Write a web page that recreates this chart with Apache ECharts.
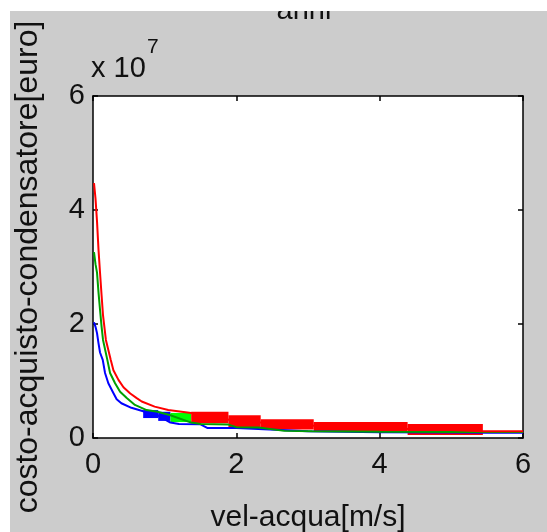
<!DOCTYPE html>
<html>
<head>
<meta charset="utf-8">
<script src="https://cdn.jsdelivr.net/npm/echarts@6/dist/echarts.min.js"></script>
<style>
  html, body { margin: 0; padding: 0; background: #ffffff; }
  #chart { width: 547px; height: 532px; }
</style>
</head>
<body>
<div id="chart"></div>
<script>
// ---- data (velocity m/s, cost in units of 1e7 euro) ----
const xTicks = [0, 2, 4, 6];
const yTicks = [0, 2, 4, 6];
const titleText = 'anni';
const xName = 'vel-acqua[m/s]';
const yName = 'costo-acquisto-condensatore[euro]';
const exponentBase = 'x 10';
const exponentPow = '7';

const blueLine = [
  [0.014, 2.03], [0.035, 1.95], [0.056, 1.84], [0.077, 1.66], [0.098, 1.50],
  [0.136, 1.37], [0.168, 1.14], [0.214, 0.96], [0.284, 0.79], [0.33, 0.68],
  [0.396, 0.61], [0.536, 0.53], [0.70, 0.47], [0.90, 0.40], [1.08, 0.27],
  [1.2, 0.245], [1.5, 0.24], [1.6, 0.175], [2.0, 0.175], [3.0, 0.12],
  [4.0, 0.10], [5.0, 0.095], [5.5, 0.09], [6.0, 0.09]
];
const greenLine = [
  [0.014, 3.26], [0.035, 3.05], [0.056, 2.90], [0.077, 2.55], [0.098, 2.25],
  [0.12, 1.95], [0.14, 1.72], [0.20, 1.37], [0.238, 1.14], [0.308, 0.96],
  [0.378, 0.81], [0.471, 0.70], [0.585, 0.58], [0.748, 0.49], [0.90, 0.46],
  [1.08, 0.40], [1.37, 0.27], [1.5, 0.245], [1.89, 0.235], [2.0, 0.19],
  [2.31, 0.185], [2.67, 0.125], [3.06, 0.12], [4.0, 0.11], [5.0, 0.105], [6.0, 0.105]
];
const redLine = [
  [0.014, 4.47], [0.035, 4.20], [0.056, 3.80], [0.077, 3.30], [0.098, 2.90],
  [0.12, 2.50], [0.14, 2.15], [0.18, 1.72], [0.248, 1.37], [0.285, 1.19],
  [0.355, 1.02], [0.425, 0.89], [0.52, 0.78], [0.61, 0.70], [0.68, 0.64],
  [0.86, 0.55], [1.05, 0.49], [1.37, 0.44], [1.6, 0.38], [2.0, 0.30],
  [3.0, 0.22], [4.0, 0.17], [5.0, 0.14], [5.44, 0.12], [6.0, 0.12]
];
// dense bands: [v start, v end, cost low, cost high]
const blueBand = [
  [0.70, 0.91, 0.35, 0.49],
  [0.91, 1.08, 0.30, 0.46]
];
const greenBand = [
  [1.08, 1.37, 0.28, 0.44]
];
const redBand = [
  [1.37, 1.89, 0.26, 0.46],
  [1.89, 2.34, 0.19, 0.40],
  [2.34, 3.08, 0.15, 0.33],
  [3.08, 4.39, 0.105, 0.28],
  [4.39, 5.44, 0.053, 0.245]
];

// ---- chart ----
const FONT = 'Liberation Sans';
const TXT = '#111111';
const chart = echarts.init(document.getElementById('chart'), null, { renderer: 'canvas' });

function bandSeries(data, color) {
  return {
    type: 'custom',
    data: data,
    encode: { x: [0, 1], y: [2, 3] },
    clip: true,
    renderItem: function (params, api) {
      const p0 = api.coord([api.value(0), api.value(3)]);
      const p1 = api.coord([api.value(1), api.value(2)]);
      return {
        type: 'rect',
        shape: { x: p0[0], y: p0[1], width: p1[0] - p0[0], height: p1[1] - p0[1] },
        style: { fill: color }
      };
    }
  };
}
function lineSeries(data, color) {
  return {
    type: 'line',
    data: data,
    showSymbol: false,
    symbol: 'none',
    lineStyle: { color: color, width: 2 },
    itemStyle: { color: color },
    clip: true
  };
}

const xMin = xTicks[0], xMax = xTicks[xTicks.length - 1], xInt = xTicks[1] - xTicks[0];
const yMin = yTicks[0], yMax = yTicks[yTicks.length - 1], yInt = yTicks[1] - yTicks[0];

const axisCommon = {
  axisLine: { show: true, onZero: false, lineStyle: { color: '#000', width: 1.5 } },
  axisTick: { show: true, inside: true, length: 5, lineStyle: { color: '#000', width: 1.5 } },
  splitLine: { show: false }
};

chart.setOption({
  animation: false,
  backgroundColor: '#cccccc',
  textStyle: { fontFamily: FONT },
  grid: {
    left: 93, right: 24, top: 96, bottom: 94,
    containLabel: false,
    outerBoundsMode: 'none',
    show: true, backgroundColor: '#ffffff', borderWidth: 0
  },
  xAxis: [
    Object.assign({
      type: 'value', position: 'bottom', min: xMin, max: xMax, interval: xInt,
      name: xName, nameLocation: 'middle', nameGap: 65,
      nameTextStyle: { fontFamily: FONT, fontSize: 30, color: TXT },
      axisLabel: { fontFamily: FONT, fontSize: 29, color: TXT, margin: 12 }
    }, axisCommon),
    Object.assign({
      type: 'value', position: 'top', min: xMin, max: xMax, interval: xInt,
      axisLabel: { show: false }
    }, axisCommon)
  ],
  yAxis: [
    Object.assign({
      type: 'value', position: 'left', min: yMin, max: yMax, interval: yInt,
      name: yName, nameLocation: 'middle', nameGap: 49,
      nameTextStyle: { fontFamily: FONT, fontSize: 32, color: TXT },
      axisLabel: { fontFamily: FONT, fontSize: 29, color: TXT, margin: 8 }
    }, axisCommon),
    Object.assign({
      type: 'value', position: 'right', min: yMin, max: yMax, interval: yInt,
      axisLabel: { show: false }
    }, axisCommon)
  ],
  graphic: [
    { type: 'text', x: 304, y: -4, z: 10,
      style: { text: titleText, fontFamily: FONT, fontSize: 29, fill: TXT, align: 'center', verticalAlign: 'top' } },
    { type: 'text', left: 91, top: 54, z: 10,
      style: { text: exponentBase, fontFamily: FONT, fontSize: 29, fill: TXT } },
    { type: 'text', left: 147, top: 37, z: 10,
      style: { text: exponentPow, fontFamily: FONT, fontSize: 21, fill: TXT } },
    { type: 'rect', x: 0, y: 0, z: 100, shape: { x: 0, y: 0, width: 547, height: 11 }, style: { fill: '#ffffff' } },
    { type: 'rect', x: 0, y: 0, z: 100, shape: { x: 0, y: 0, width: 10, height: 532 }, style: { fill: '#ffffff' } }
  ],
  series: [
    lineSeries(blueLine, '#0000ff'),
    bandSeries(blueBand, '#0000ff'),
    lineSeries(greenLine, '#00a000'),
    bandSeries(greenBand, '#00ff00'),
    lineSeries(redLine, '#ff0000'),
    bandSeries(redBand, '#ff0000')
  ]
});
</script>
</body>
</html>
